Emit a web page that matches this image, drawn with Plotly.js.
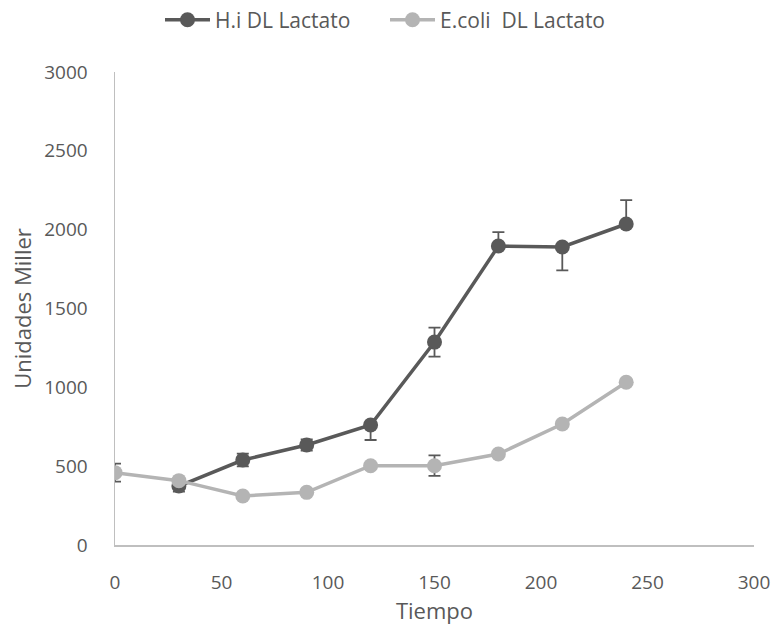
<!DOCTYPE html>
<html>
<head>
<meta charset="utf-8">
<script src="https://cdn.plot.ly/plotly-3.0.1.min.js"></script>
<style>html,body{margin:0;padding:0;background:#fff;}#chart{width:774px;height:628px;}</style>
</head>
<body>
<div id="chart"></div>
<script>
// Data
const hiTime = [30, 60, 90, 120, 150, 180, 210, 240];
const hiValues = [374, 539, 634, 761, 1287, 1896, 1890, 2036];
const hiErrPlus = [35, 40, 35, 0, 92, 89, 0, 152];
const hiErrMinus = [35, 40, 35, 95, 92, 0, 148, 0];

const ecTime = [0, 30, 60, 90, 120, 150, 180, 210, 240];
const ecValues = [459, 408, 311, 334, 503, 503, 577, 767, 1032];
const ecErrPlus = [57, 0, 0, 0, 0, 65, 0, 0, 0];
const ecErrMinus = [57, 0, 0, 0, 0, 65, 0, 0, 0];

const xTicks = [0, 50, 100, 150, 200, 250, 300];
const yTicks = [0, 500, 1000, 1500, 2000, 2500, 3000];

const darkColor = '#595959';
const lightColor = '#b4b4b4';
const textColor = '#595959';
const fontFam = '"Open Sans", sans-serif';

const traces = [
  {
    x: hiTime, y: hiValues, type: 'scatter', mode: 'lines+markers',
    name: 'H.i DL Lactato',
    line: {color: darkColor, width: 3.5},
    marker: {color: darkColor, size: 15},
    error_y: {type: 'data', symmetric: false, array: hiErrPlus, arrayminus: hiErrMinus,
              color: darkColor, thickness: 1.8, width: 6}
  },
  {
    x: ecTime, y: ecValues, type: 'scatter', mode: 'lines+markers',
    name: 'E.coli  DL Lactato',
    line: {color: lightColor, width: 3.5},
    marker: {color: lightColor, size: 15},
    error_y: {type: 'data', symmetric: false, array: ecErrPlus, arrayminus: ecErrMinus,
              color: darkColor, thickness: 1.8, width: 6}
  }
];

const layout = {
  width: 774, height: 628,
  margin: {l: 115, r: 20, t: 72, b: 83},
  paper_bgcolor: '#fff', plot_bgcolor: '#fff',
  font: {family: fontFam, color: textColor, size: 16},
  showlegend: true,
  legend: {orientation: 'h', x: 160 / 774, xref: 'container', xanchor: 'left',
           y: 0.968, yref: 'container', yanchor: 'middle',
           entrywidth: 165, entrywidthmode: 'pixels',
           font: {family: fontFam, size: 21, color: textColor}, itemwidth: 45, traceorder: 'normal'},
  xaxis: {
    range: [0, 300], tickvals: xTicks, ticktext: xTicks.map(String),
    showgrid: false, zeroline: false, showline: true, linecolor: '#bfbfbf', linewidth: 1.5,
    ticks: '', tickfont: {size: 19, color: textColor}, ticklabelstandoff: 20,
    title: {text: 'Tiempo', font: {size: 22, color: textColor}, standoff: 6}
  },
  yaxis: {
    range: [0, 3000], tickvals: yTicks, ticktext: yTicks.map(String),
    showgrid: false, zeroline: false, showline: true, linecolor: '#bfbfbf', linewidth: 1.5,
    ticks: '', tickfont: {size: 19, color: textColor}, ticklabelstandoff: 22,
    title: {text: 'Unidades Miller', font: {size: 22, color: textColor}, standoff: 6}
  }
};

Plotly.newPlot('chart', traces, layout, {displayModeBar: false, staticPlot: true});
</script>
</body>
</html>
